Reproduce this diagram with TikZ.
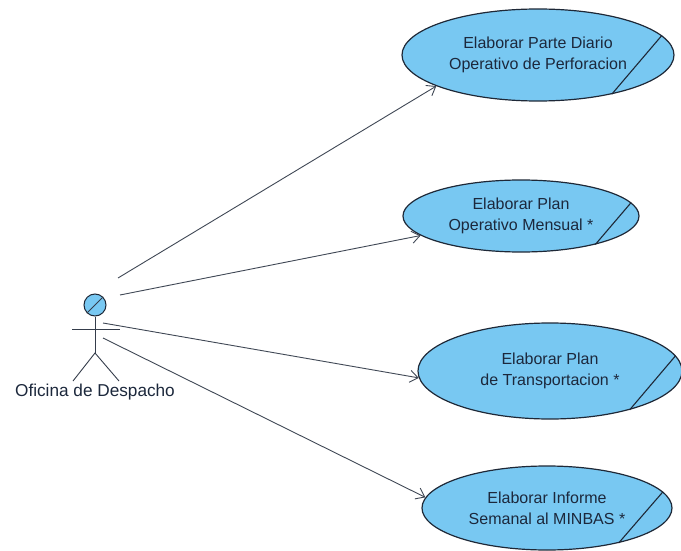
\documentclass[tikz,border=0pt]{standalone}
\usepackage{fontspec}
\setmainfont{Liberation Sans}
\usetikzlibrary{shapes.geometric,arrows.meta}
\definecolor{ucfill}{RGB}{120,200,242}
\definecolor{ucline}{RGB}{30,40,55}
\definecolor{uctext}{RGB}{28,40,60}
\begin{document}
\begin{tikzpicture}[x=1pt,y=-1pt,
  usecase/.style={ellipse, draw=ucline, line width=1.2pt, fill=ucfill,
    inner sep=0pt, align=center, font=\fontsize{16}{21}\selectfont, text=uctext},
  assoc/.style={draw=ucline!85, line width=0.9pt,
    -{Straight Barb[length=8pt,width=12pt]}},
  bizslash/.style={draw=ucline, line width=1.1pt},
  stick/.style={draw=ucline!90, line width=0.9pt}
]
\useasboundingbox[fill=white] (0,0) rectangle (681,551);

% use cases
\node[usecase, minimum width=272pt, minimum height=92pt] (e1) at (538,55)
  {Elaborar Parte Diario\\Operativo de Perforacion};
\node[usecase, minimum width=236pt, minimum height=72pt] (e2) at (521,216)
  {Elaborar Plan\\Operativo Mensual *};
\node[usecase, minimum width=264pt, minimum height=96pt] (e3) at (550,371)
  {Elaborar Plan\\de Transportacion *};
\node[usecase, minimum width=250pt, minimum height=84pt] (e4) at (547,508)
  {Elaborar Informe\\Semanal al MINBAS *};

% business use case marks
\draw[bizslash] (e1.9) -- (e1.-28);
\draw[bizslash] (e2.7) -- (e2.-21);
\draw[bizslash] (e3.7) -- (e3.-26);
\draw[bizslash] (e4.8) -- (e4.-26);

% actor
\node[circle, draw=ucline, line width=1pt, fill=ucfill, minimum size=22pt, inner sep=0pt] (head) at (95,305) {};
\draw[stick] (head.-135) -- (head.45);
\coordinate (hip) at (95,353);
\draw[stick] (head.south) -- (hip);
\coordinate (armL) at (72,329);
\coordinate (armR) at (120,329);
\draw[stick] (armL) -- (armR);
\coordinate (legL) at (73,381);
\coordinate (legR) at (119,381);
\draw[stick] (legL) -- (hip) -- (legR);
\node[font=\fontsize{17.2}{20}\selectfont, text=uctext] (actor) at (95,392) {Oficina de Despacho};

% associations
\coordinate (s1) at (118,278);
\coordinate (s2) at (120,295);
\coordinate (s3) at (103,323);
\coordinate (s4) at (103,338);
\draw[assoc] (s1) -- (e1.-163);
\draw[assoc] (s2) -- (e2.-169);
\draw[assoc] (s3) -- (e3.-177);
\draw[assoc] (s4) -- (e4.175);
\end{tikzpicture}
\end{document}
